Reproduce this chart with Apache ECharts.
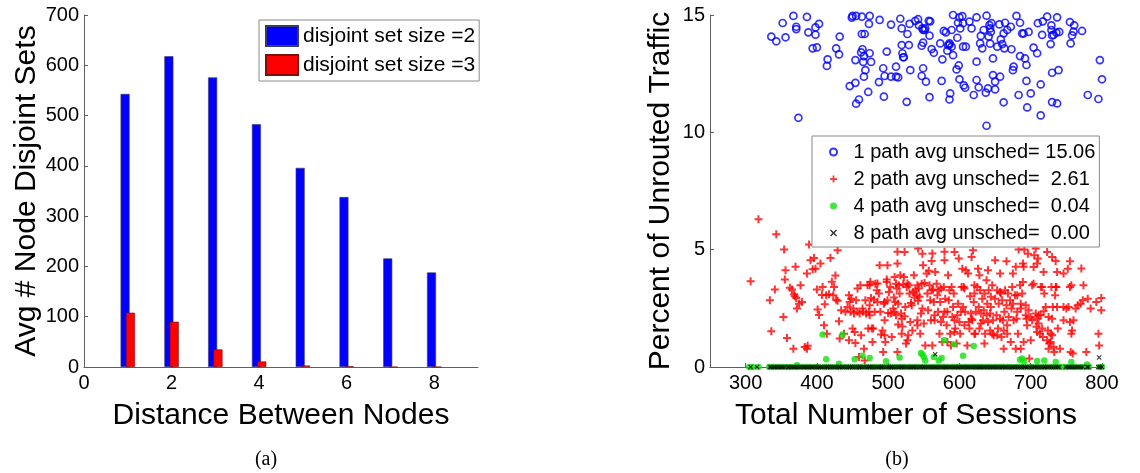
<!DOCTYPE html>
<html>
<head>
<meta charset="utf-8">
<script src="https://cdn.jsdelivr.net/npm/echarts@6/dist/echarts.min.js"></script>
<style>
html,body{margin:0;padding:0;background:#fff;}
#chart{width:1140px;height:473px;}
</style>
</head>
<body>
<div id="chart"></div>
<script>
// ---------- Panel (a): bar chart ----------
const distances = [1, 2, 3, 4, 5, 6, 7, 8];
const setSize2 = [543, 618, 576, 483, 396, 338, 216, 188];
const setSize3 = [108, 90, 35, 11, 3, 1.5, 0, 0];
const xTicksA = [0, 2, 4, 6, 8];
const legendA = ['disjoint set size =2', 'disjoint set size =3'];

// ---------- Panel (b): scatter ----------
const xTicksB = [300, 400, 500, 600, 700, 800];
const legendB = ['1 path avg unsched= 15.06', '2 path avg unsched=  2.61', '4 path avg unsched=  0.04', '8 path avg unsched=  0.00'];

const path1 = [[336,14.08],[343,13.88],[356,14.05],[352,14.66],[367,14.96],[371,14.5],[371,14.4],[386,14.92],[388,14.26],[394,13.58],[398,14.16],[400,13.62],[403,14.62],[398,14.47],[374,10.62],[414,12.83],[415,13.11],[427,13.58],[431,13.32],[432,14.08],[446,11.97],[449,14.89],[450,14.96],[455,14.96],[463,14.93],[474,14.96],[473,14.62],[463,14.19],[467,14.19],[462,13.41],[464,13.54],[466,13.25],[465,13.0],[474,13.37],[476,13.0],[468,12.65],[466,12.37],[454,13.08],[454,12.11],[455,11.22],[459,11.4],[472,11.72],[487,12.14],[488,14.79],[493,12.73],[495,12.4],[494,11.52],[498,13.44],[504,14.59],[504,12.37],[511,12.37],[514,12.34],[511,12.8],[517,14.84],[519,14.43],[519,13.72],[520,13.37],[521,13.2],[522,13.2],[526,11.3],[527,14.19],[530,14.62],[531,12.65],[529,13.72],[538,14.75],[542,14.82],[543,14.57],[547,13.69],[549,13.82],[549,14.36],[548,14.43],[551,14.36],[552,14.43],[557,14.75],[559,14.73],[558,14.12],[561,13.55],[564,13.39],[547,12.4],[549,12.73],[553,12.16],[558,11.5],[575,12.19],[576,13.11],[573,13.79],[578,14.32],[581,14.26],[583,13.48],[584,13.71],[586,13.79],[586,13.74],[589,14.36],[589,13.65],[591,13.29],[587,11.66],[586,11.4],[591,15.0],[598,14.67],[600,14.9],[604,14.95],[605,14.65],[601,14.43],[605,13.65],[609,13.65],[597,14.03],[596,12.68],[599,12.85],[600,12.26],[606,12.0],[608,11.9],[614,14.72],[617,14.43],[620,11.59],[624,14.9],[624,13.01],[624,12.23],[627,11.92],[629,13.79],[630,14.11],[632,13.58],[634,14.36],[638,14.97],[637,11.69],[638,10.28],[640,11.87],[641,14.08],[642,14.57],[643,14.43],[643,13.78],[644,14.28],[645,14.65],[647,13.15],[647,12.44],[650,12.16],[650,11.83],[653,13.65],[656,14.6],[657,12.37],[658,13.96],[660,13.76],[662,14.22],[662,11.28],[663,13.58],[664,14.67],[667,14.36],[672,14.5],[673,13.54],[675,12.65],[676,12.8],[680,14.96],[683,11.59],[685,14.67],[685,13.25],[688,14.22],[690,14.21],[692,13.15],[694,12.87],[694,12.19],[695,11.06],[697,14.28],[700,11.66],[704,13.61],[709,13.37],[710,14.65],[717,14.73],[714,12.04],[714,10.72],[716,14.15],[723,14.93],[728,13.76],[729,14.56],[729,14.36],[730,14.13],[730,12.54],[730,11.29],[732,14.15],[736,14.25],[737,14.9],[737,11.23],[739,12.65],[740,14.28],[755,14.7],[756,13.79],[758,14.13],[760,14.29],[761,14.56],[772,14.32],[780,11.59],[795,11.42],[797,13.08],[800,12.26]];

const path2 = [[307,3.65],[318,6.30],[334,2.84],[336,1.52],[341,3.30],[343,5.66],[353,2.13],[354,5.01],[356,4.12],[355,3.73],[358,1.24],[362,3.38],[365,3.30],[367,0.78],[368,3.10],[369,3.01],[370,4.27],[371,2.94],[372,2.49],[375,2.70],[377,3.48],[379,2.77],[383,0.85],[386,0.78],[386,3.98],[387,0.91],[389,5.22],[391,4.55],[394,4.17],[396,4.64],[398,4.19],[400,3.30],[401,2.45],[403,2.22],[405,4.41],[407,3.07],[408,3.41],[410,1.78],[411,2.67],[413,3.06],[414,1.42],[417,3.10],[419,4.65],[421,3.63],[423,3.06],[424,3.41],[426,3.90],[427,2.87],[429,4.98],[429,2.82],[431,1.95],[432,1.21],[434,2.42],[438,1.42],[440,2.35],[443,2.56],[445,1.14],[445,3.06],[446,2.77],[447,2.35],[448,2.91],[450,1.64],[451,2.49],[452,2.28],[453,1.49],[454,1.02],[455,2.84],[457,3.34],[457,2.35],[459,0.43],[460,2.28],[461,3.48],[462,1.35],[464,2.49],[465,2.35],[466,0.78],[467,0.28],[468,2.84],[469,2.28],[471,3.48],[472,1.64],[473,2.35],[474,2.20],[475,3.63],[476,2.94],[478,1.07],[479,1.64],[480,2.87],[482,3.55],[484,3.27],[485,2.77],[487,3.13],[488,4.34],[489,2.35],[490,1.38],[492,1.56],[493,0.64],[494,2.70],[495,1.99],[496,1.07],[498,3.73],[499,2.84],[500,2.30],[501,3.20],[503,3.41],[504,2.28],[505,1.28],[507,2.49],[508,2.96],[509,3.84],[510,2.77],[511,3.55],[511,2.20],[512,3.34],[513,4.91],[514,1.81],[514,2.69],[515,3.48],[516,3.13],[517,3.91],[518,2.28],[519,1.42],[520,1.73],[521,3.53],[522,3.84],[523,2.16],[524,2.56],[526,3.41],[527,1.14],[528,1.35],[529,3.48],[530,3.13],[531,1.92],[532,2.73],[534,1.56],[535,3.20],[536,3.91],[537,2.96],[538,3.27],[540,3.06],[541,1.99],[542,2.82],[542,5.05],[543,3.34],[544,2.99],[545,1.42],[546,2.28],[547,3.55],[548,4.83],[549,4.34],[550,1.85],[551,3.58],[552,0.92],[554,3.98],[555,3.13],[556,2.42],[557,4.10],[558,3.48],[559,2.84],[560,1.99],[561,4.52],[562,0.92],[563,3.30],[564,2.77],[565,1.99],[566,4.05],[568,3.55],[569,3.06],[570,2.35],[571,3.27],[572,1.42],[573,2.77],[574,3.34],[576,1.07],[577,2.13],[578,3.41],[579,4.91],[580,2.91],[582,1.78],[583,2.35],[584,3.91],[585,2.84],[586,3.27],[587,1.42],[588,0.92],[590,2.13],[591,2.56],[592,3.13],[593,1.99],[594,1.64],[596,1.00],[597,2.20],[598,2.70],[599,4.62],[600,1.92],[601,1.42],[603,3.41],[604,4.19],[605,2.56],[606,3.41],[607,1.78],[608,2.35],[609,4.12],[611,0.92],[612,3.98],[613,1.92],[614,1.64],[615,3.01],[616,2.28],[618,1.99],[619,4.98],[620,2.77],[621,3.13],[622,1.42],[623,2.35],[625,3.41],[626,4.19],[627,2.56],[628,1.64],[629,3.27],[630,2.28],[632,2.91],[633,1.99],[634,2.42],[635,3.13],[636,1.42],[638,3.70],[639,2.70],[640,1.92],[641,3.27],[643,2.28],[643,1.56],[644,2.56],[646,3.48],[647,1.99],[648,1.35],[650,2.91],[650,4.55],[652,2.20],[653,3.27],[654,1.64],[655,2.69],[657,2.06],[657,3.20],[659,1.28],[660,2.84],[661,1.99],[662,0.78],[663,2.35],[664,3.27],[666,2.63],[667,1.42],[668,3.13],[669,2.13],[671,2.84],[672,1.07],[673,2.49],[674,3.41],[675,2.70],[676,1.99],[678,3.06],[679,4.27],[680,2.06],[681,2.35],[682,1.42],[683,5.01],[685,3.48],[686,2.49],[686,0.78],[688,3.13],[689,4.41],[690,4.27],[691,5.01],[693,2.20],[694,2.06],[695,1.78],[696,4.83],[697,2.42],[698,0.36],[700,2.13],[700,1.14],[702,1.99],[704,3.55],[705,4.76],[707,2.28],[708,1.71],[709,2.06],[710,4.62],[711,1.85],[713,1.42],[714,2.20],[714,3.41],[716,1.64],[717,1.28],[718,4.05],[719,3.13],[721,2.56],[723,1.14],[724,1.56],[725,0.78],[726,1.00],[728,1.42],[729,3.41],[730,1.35],[731,2.56],[732,0.85],[733,0.64],[735,4.52],[736,3.41],[737,2.56],[738,1.64],[741,0.78],[746,2.56],[750,2.49],[752,4.19],[755,1.92],[757,3.48],[757,1.42],[758,1.56],[759,0.57],[760,1.99],[763,2.49],[766,2.63],[770,2.70],[773,2.84],[780,2.91],[795,1.42],[796,0.92],[799,2.42],
  [707,5.05],[723,4.90],[730,4.69],[755,4.51],[771,4.20],[666,4.51],[640,4.12],[657,3.98],[675,3.98],[709,4.41],[704,4.26],[737,4.05],[746,3.98],[689,3.62],[702,3.48],[716,3.41],[735,3.41],[755,3.41],[774,3.48],[734,3.06],[753,2.56],[784,2.49],[792,2.77],[799,2.94],[644,2.99],[658,3.13],[681,3.06],[686,2.70],[693,2.63],[718,2.38],[725,2.13],[730,2.06],[746,1.99],[709,1.49],[728,1.07],[690,1.07],[679,0.78],[756,0.64],[778,0.64],[646,1.42],[653,1.35],[662,1.56],[667,1.78],[711,2.20],[638,2.20],
  [523,4.90],[499,4.34],[513,4.41],[562,4.84],[579,4.55],[593,4.90],[617,4.69],[628,3.91],[474,3.48],[485,3.56],[498,3.62],[527,3.56],[541,3.48],[561,3.27],[589,3.41],[607,3.34],[621,3.48],[474,2.63],[481,2.35],[495,2.77],[509,2.35],[519,2.06],[533,2.63],[548,2.49],[565,2.20],[579,2.35],[602,2.35],[617,2.06],[630,1.85],[477,1.64],[495,1.35],[525,1.00],[541,1.78],[574,1.92],[593,1.49],[621,1.42],[635,1.00],[513,0.64],[583,1.07]];

const path4Raised = [[408,1.38],[436,1.38],[413,0.33],[431,0.14],[453,0.33],[464,0.48],[474,0.38],[497,0.24],[516,0.40],[546,0.60],[548,0.53],[550,0.43],[552,0.28],[564,0.43],[571,0.28],[575,0.38],[579,1.14],[592,0.97],[605,0.48],[620,0.90],[685,0.31],[688,0.36],[691,0.24],[709,0.26],[719,0.28],[735,0.21],[757,0.21],[779,0.11],[372,0.07]];
const path4ZeroX = [305,310,318,333,339,345,351,357,362,368,373,380,386,391,398,403,410,416,421,428,433,440,446,452,458,463,470,476,481,488,493,500,505,511,518,523,530,536,541,548,553,560,566,571,578,583,590,596,601,608,613,620,626,631,638,643,650,656,661,668,673,680,686,691,698,703,710,716,721,728,733,740,746,751,758,763,770,776,782,796,800];

const path8Raised = [[566,0.54],[796,0.40]];
const path8ZeroX = [307,316,334,336,339,341,344,347,350,352,355,359,361,364,367,369,372,375,378,381,383,386,389,392,394,397,400,403,405,408,411,414,416,419,422,425,428,431,433,436,439,442,445,447,450,453,456,459,461,464,467,470,473,475,478,481,484,487,490,492,495,498,501,504,506,509,512,515,518,520,523,526,529,532,535,537,540,543,546,549,551,554,557,560,563,566,568,571,574,577,580,582,585,588,591,594,597,599,602,605,608,611,613,616,619,622,625,628,630,633,636,639,642,644,647,650,653,656,659,661,664,667,670,673,675,678,681,684,687,690,692,695,698,701,704,706,709,712,715,718,720,723,726,729,732,735,738,740,749,752,755,758,761,764,767,770,773,779,781,795,797,800];

const FONT = '"Liberation Sans", Arial, Helvetica, sans-serif';
const AXIS_COLOR = '#5f5f5f';

const chart = echarts.init(document.getElementById('chart'), null, {renderer: 'canvas'});

function axisBase() {
  return {
    axisLine: {show: true, onZero: false, lineStyle: {color: AXIS_COLOR, width: 1}},
    axisTick: {show: true, inside: true, length: 4, lineStyle: {color: AXIS_COLOR}},
    axisLabel: {color: '#000', fontSize: 20, fontFamily: FONT, margin: 5},
    splitLine: {show: false},
    nameTextStyle: {color: '#000', fontSize: 30, fontFamily: FONT},
    nameLocation: 'middle'
  };
}

const plusPath = 'path://M3,0H5V3H8V5H5V8H3V5H0V3H3Z';
const crossPath = 'path://M0,1.2L1.2,0L4,2.8L6.8,0L8,1.2L5.2,4L8,6.8L6.8,8L4,5.2L1.2,8L0,6.8L2.8,4Z';

const option = {
  backgroundColor: '#fff',
  animation: false,
  grid: [
    {left: 84, top: 15, width: 394, height: 352},
    {left: 710, top: 15, width: 392, height: 352}
  ],
  xAxis: [
    Object.assign(axisBase(), {
      gridIndex: 0, type: 'value', min: 0, max: 9,
      name: 'Distance Between Nodes', nameGap: 34,
      axisLabel: {color: '#000', fontSize: 20, fontFamily: FONT, margin: 6, customValues: xTicksA},
      axisTick: {show: true, inside: true, length: 4, lineStyle: {color: AXIS_COLOR}, customValues: xTicksA}
    }),
    Object.assign(axisBase(), {
      gridIndex: 1, type: 'value', min: 250, max: 800,
      name: 'Total Number of Sessions', nameGap: 34,
      axisLabel: {color: '#000', fontSize: 20, fontFamily: FONT, margin: 6, customValues: xTicksB},
      axisTick: {show: true, inside: true, length: 4, lineStyle: {color: AXIS_COLOR}, customValues: xTicksB}
    })
  ],
  yAxis: [
    Object.assign(axisBase(), {
      gridIndex: 0, type: 'value', min: 0, max: 700, interval: 100,
      name: 'Avg # Node Disjoint Sets', nameGap: 42
    }),
    Object.assign(axisBase(), {
      gridIndex: 1, type: 'value', min: 0, max: 15, interval: 5,
      name: 'Percent of Unrouted Traffic', nameGap: 34
    })
  ],
  legend: [
    {
      data: legendA, orient: 'vertical', left: 259, top: 20,
      padding: [5, 4, 5, 6], itemGap: 7, itemWidth: 32, itemHeight: 20, icon: 'rect',
      borderColor: '#8a8a8a', borderWidth: 1, backgroundColor: '#fff',
      textStyle: {fontSize: 21, fontFamily: FONT, color: '#000', lineHeight: 20},
      selectedMode: false
    },
    {
      data: legendB, orient: 'vertical', left: 812, top: 136,
      padding: [6, 4, 4, 17], itemGap: 7, itemWidth: 30, itemHeight: 7,
      borderColor: '#8a8a8a', borderWidth: 1, backgroundColor: '#fff',
      textStyle: {fontSize: 20, fontFamily: FONT, color: '#000', lineHeight: 20},
      selectedMode: false
    }
  ],
  graphic: [
    {type: 'text', x: 266, y: 460, style: {text: '(a)', font: '20px "Liberation Serif", "Times New Roman", serif', fill: '#000', align: 'center', verticalAlign: 'middle'}},
    {type: 'text', x: 897, y: 460, style: {text: '(b)', font: '20px "Liberation Serif", "Times New Roman", serif', fill: '#000', align: 'center', verticalAlign: 'middle'}}
  ],
  series: [
    {
      name: legendA[0], type: 'bar', xAxisIndex: 0, yAxisIndex: 0,
      barWidth: 9, barGap: '-40%',
      itemStyle: {color: '#0000ff', borderColor: '#3a3a6a', borderWidth: 0.6},
      data: distances.map((d, i) => [d, setSize2[i]])
    },
    {
      name: legendA[1], type: 'bar', xAxisIndex: 0, yAxisIndex: 0,
      barWidth: 9, barGap: '-40%',
      itemStyle: {color: '#ff0000', borderColor: '#7a1010', borderWidth: 0.6},
      data: distances.map((d, i) => [d, setSize3[i]])
    },
    {
      name: legendB[0], type: 'scatter', xAxisIndex: 1, yAxisIndex: 1,
      symbol: 'circle', symbolSize: 7, clip: false,
      itemStyle: {color: 'rgba(255,255,255,0)', borderColor: '#0000ff', borderWidth: 1.7},
      data: path1
    },
    {
      name: legendB[1], type: 'scatter', xAxisIndex: 1, yAxisIndex: 1,
      symbol: plusPath, symbolSize: 8, symbolKeepAspect: true, clip: false,
      itemStyle: {color: '#ff0000'},
      data: path2
    },
    {
      name: legendB[2], type: 'scatter', xAxisIndex: 1, yAxisIndex: 1,
      symbol: 'circle', symbolSize: 6.5, clip: false,
      itemStyle: {color: '#11e011'},
      data: path4Raised.concat(path4ZeroX.map(x => [x, 0]))
    },
    {
      name: legendB[3], type: 'scatter', xAxisIndex: 1, yAxisIndex: 1,
      symbol: crossPath, symbolSize: 5, symbolKeepAspect: true, clip: false,
      itemStyle: {color: '#000'},
      data: path8Raised.concat(path8ZeroX.map(x => [x, 0]))
    }
  ]
};
chart.setOption(option);
</script>
</body>
</html>
